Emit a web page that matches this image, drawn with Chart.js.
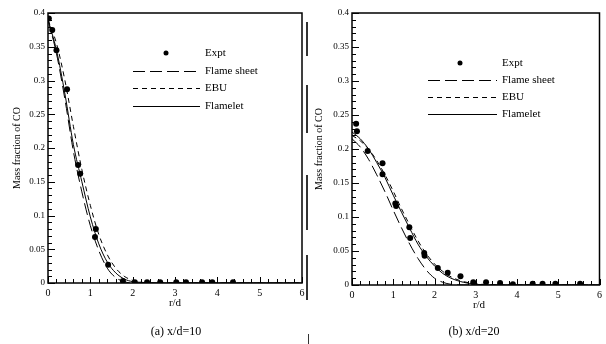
<!DOCTYPE html>
<html><head><meta charset="utf-8">
<script src="https://cdn.jsdelivr.net/npm/chart.js@4.4.1/dist/chart.umd.min.js"></script>
<style>
html,body{margin:0;padding:0;background:#fff;}
#wrap{position:relative;width:606px;height:344px;overflow:hidden;font-family:"Liberation Serif",serif;color:#000;}
canvas{position:absolute;top:0;}
.t{position:absolute;font-size:11px;white-space:nowrap;transform:translateX(-50%);}
.bar{position:absolute;background:#333;width:2px;}
</style></head><body>
<div id="wrap">
<canvas id="cA" width="310" height="300" style="left:0"></canvas>
<canvas id="cB" width="300" height="300" style="left:306px"></canvas>
<div class="t" style="left:175px;top:296px">r/d</div>
<div class="t" style="left:479px;top:298px">r/d</div>
<div class="t" style="left:176px;top:324px;font-size:12px">(a) x/d=10</div>
<div class="t" style="left:474px;top:324px;font-size:12px">(b) x/d=20</div>
<div class="bar" style="left:306px;top:22px;height:34px"></div>
<div class="bar" style="left:306px;top:85px;height:48px"></div>
<div class="bar" style="left:306px;top:175px;height:55px"></div>
<div class="bar" style="left:306px;top:255px;height:45px"></div>
<div class="bar" style="left:308px;top:334px;height:10px;width:1px"></div>
</div>
<script>
// ---- data ----
const seriesNames = ["Expt", "Flame sheet", "EBU", "Flamelet"];
const xTickLabels = ["0","1","2","3","4","5","6"];
const yTickLabels = ["0","0.05","0.1","0.15","0.2","0.25","0.3","0.35","0.4"];

// panel (a) x/d = 10
const exptA_x = [0.02,0.10,0.20,0.45,0.71,0.76,1.11,1.13,1.42,1.77,2.05,2.34,2.65,3.03,3.26,3.64,3.88,4.37];
const exptA_y = [0.392,0.375,0.345,0.287,0.175,0.162,0.068,0.080,0.027,0.003,0.001,0.001,0.001,0.001,0.001,0.001,0.001,0.001];
const modelA_x = [0,0.2,0.4,0.6,0.8,1.0,1.2,1.4,1.6,1.8,2.0,2.2,2.5,3,4,5,6];
const sheetA_y   = [0.39,0.340,0.272,0.195,0.135,0.085,0.048,0.022,0.008,0.002,0.000,0,0,0,0,0,0];
const ebuA_y     = [0.39,0.355,0.300,0.232,0.168,0.115,0.072,0.042,0.022,0.010,0.004,0.001,0,0,0,0,0];
const flameletA_y= [0.39,0.345,0.280,0.205,0.150,0.098,0.058,0.031,0.015,0.006,0.002,0.001,0,0,0,0,0];

// panel (b) x/d = 20
const exptB_x = [0.10,0.12,0.38,0.74,0.74,1.05,1.07,1.39,1.41,1.75,1.76,2.08,2.32,2.63,2.94,3.25,3.59,3.90,4.38,4.62,4.93,5.53];
const exptB_y = [0.237,0.226,0.197,0.179,0.163,0.120,0.116,0.085,0.069,0.047,0.043,0.025,0.018,0.013,0.004,0.004,0.003,0.001,0.002,0.002,0.002,0.002];
const modelB_x = [0,0.2,0.4,0.6,0.8,1.0,1.2,1.4,1.6,1.8,2.0,2.2,2.4,2.7,3,3.5,6];
const sheetB_y   = [0.215,0.203,0.185,0.162,0.137,0.110,0.084,0.060,0.039,0.022,0.010,0.004,0.001,0,0,0,0];
const ebuB_y     = [0.220,0.212,0.200,0.183,0.162,0.138,0.112,0.088,0.065,0.046,0.031,0.020,0.012,0.005,0.002,0,0];
const flameletB_y= [0.225,0.215,0.200,0.180,0.158,0.132,0.107,0.083,0.060,0.042,0.028,0.017,0.010,0.004,0.001,0,0];

const pts = (xs, ys) => xs.map((x,i)=>({x:x,y:ys[i]}));

function makeDatasets(ex, ey, mx, s, e, f){
  return [
    {label:seriesNames[0], data:pts(ex,ey), showLine:false, pointRadius:3, pointBackgroundColor:'#000', pointBorderColor:'#000', pointBorderWidth:0},
    {label:seriesNames[1], data:pts(mx,s), showLine:true, pointRadius:0, borderColor:'#000', borderWidth:1, borderDash:[12,5], cubicInterpolationMode:'monotone'},
    {label:seriesNames[2], data:pts(mx,e), showLine:true, pointRadius:0, borderColor:'#000', borderWidth:1, borderDash:[5,4], cubicInterpolationMode:'monotone'},
    {label:seriesNames[3], data:pts(mx,f), showLine:true, pointRadius:0, borderColor:'#000', borderWidth:1, cubicInterpolationMode:'monotone'}
  ];
}

const framePlugin = {
  id:'frame',
  afterDraw(chart, args, o){
    const ctx = chart.ctx, a = chart.chartArea, xs = chart.scales.x, ys = chart.scales.y;
    ctx.save();
    ctx.strokeStyle = '#000';
    ctx.lineWidth = 1.5;
    ctx.strokeRect(a.left, a.top, a.right - a.left, a.bottom - a.top);
    ctx.lineWidth = 1;
    ctx.beginPath();
    for (let i = 0; i <= 30; i++) {
      const v = i * 0.2, px = Math.round(xs.getPixelForValue(v)) + 0.5;
      const len = (i % 5 === 0) ? 6 : 4;
      ctx.moveTo(px, a.bottom); ctx.lineTo(px, a.bottom - len);
    }
    for (let i = 0; i <= 40; i++) {
      const v = i * 0.01, py = Math.round(ys.getPixelForValue(v)) + 0.5;
      const len = (i % 5 === 0) ? 7 : 4;
      ctx.moveTo(a.left, py); ctx.lineTo(a.left + len, py);
    }
    ctx.stroke();
    // y title
    ctx.font = '10px "Liberation Serif", serif';
    ctx.fillStyle = '#000';
    ctx.textAlign = 'center'; ctx.textBaseline = 'middle';
    ctx.translate(o.titleX, (a.top + a.bottom) / 2);
    ctx.rotate(-Math.PI / 2);
    ctx.fillText('Mass fraction of CO', 0, 0);
    ctx.restore();
    // legend
    const L = o.legend;
    ctx.save();
    ctx.font = '11px "Liberation Serif", serif';
    ctx.textBaseline = 'middle'; ctx.textAlign = 'left';
    chart.data.datasets.forEach((ds, i) => {
      const y = L.rows[i];
      ctx.strokeStyle = '#000'; ctx.fillStyle = '#000';
      if (ds.showLine === false) {
        ctx.beginPath(); ctx.arc(L.dot, y, 2.5, 0, Math.PI * 2); ctx.fill();
      } else {
        ctx.lineWidth = 1;
        ctx.setLineDash(ds.borderDash || []);
        ctx.beginPath(); ctx.moveTo(L.x0, y + 0.5); ctx.lineTo(L.x1, y + 0.5); ctx.stroke();
        ctx.setLineDash([]);
      }
      ctx.fillText(ds.label, L.text, y);
    });
    ctx.restore();
  }
};

function makeChart(id, datasets, plotLeft, plotRight, plotBottom, canvasW, canvasH, titleX, legend){
  new Chart(document.getElementById(id), {
    type:'scatter',
    data:{datasets:datasets},
    plugins:[framePlugin],
    options:{
      responsive:false, animation:false, devicePixelRatio:1,
      layout:{padding:{left:0, top:13, right:canvasW - plotRight, bottom:0}},
      plugins:{legend:{display:false}, tooltip:{enabled:false}, frame:{titleX:titleX, legend:legend}},
      scales:{
        x:{type:'linear', min:0, max:6,
           grid:{display:false, drawTicks:false}, border:{display:false},
           afterBuildTicks(s){ s.ticks = xTickLabels.map(v=>({value:+v})); },
           afterFit(s){ s.height = canvasH - plotBottom; },
           ticks:{padding:4, color:'#000', font:{family:'"Liberation Serif", serif', size:10}, maxRotation:0, autoSkip:false}},
        y:{type:'linear', min:0, max:0.4,
           grid:{display:false, drawTicks:false}, border:{display:false},
           afterBuildTicks(s){ s.ticks = yTickLabels.map(v=>({value:+v})); },
           afterFit(s){ s.width = plotLeft; },
           ticks:{padding:3, color:'#000', font:{family:'"Liberation Serif", serif', size:9}, autoSkip:false,
                  callback:(v)=>yTickLabels.find(t=>Math.abs(+t - v) < 1e-9) || ''}}
      }
    }
  });
}

makeChart('cA', makeDatasets(exptA_x, exptA_y, modelA_x, sheetA_y, ebuA_y, flameletA_y),
  48, 302, 283, 310, 300, 17, {x0:133, x1:200, dot:166, text:205, rows:[53,71,88,106]});
makeChart('cB', makeDatasets(exptB_x, exptB_y, modelB_x, sheetB_y, ebuB_y, flameletB_y),
  46, 297, 285, 300, 300, 13, {x0:122, x1:191, dot:154, text:196, rows:[63,80,97,114]});
</script>
</body></html>
